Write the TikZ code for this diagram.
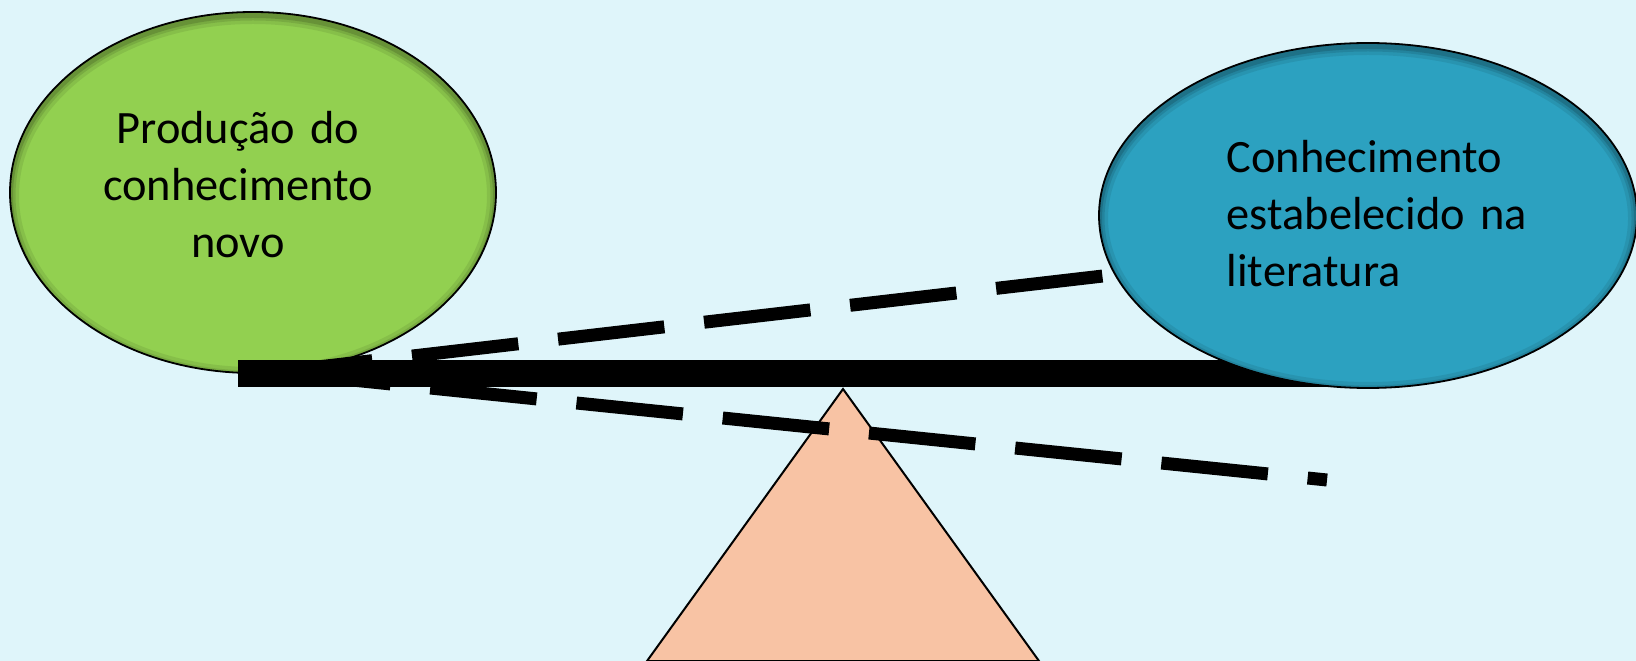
\documentclass[tikz,border=0pt]{standalone}
\usepackage{fontspec}
\setmainfont{Carlito}
\usetikzlibrary{shapes.geometric}
\definecolor{cBg}{HTML}{DFF5FA}
\definecolor{cNew}{HTML}{92D050}
\definecolor{cLit}{HTML}{2CA1C0}
\definecolor{cBase}{HTML}{F8C3A4}
\tikzset{
  blob/.style={ellipse,draw=black,line width=0.18mm,inner sep=0pt},
  innershade/.style 2 args={path picture={
    \foreach \lw/\op in {1.8mm/0.08,1.1mm/0.10,0.6mm/0.14}
      \draw[black,opacity=\op,line width=\lw]
        ([yshift=-0.3mm]path picture bounding box.center)
        ellipse [x radius=#1,y radius=#2];}},
  txt/.style={inner sep=0pt,font=\fontsize{13.2pt}{16.2pt}\selectfont},
  beam/.style={line width=2.7mm,draw=black},
  tilt/.style={line width=1.3mm,draw=black,dash pattern=on 10.7mm off 4mm},
  fulcrum/.style={draw=black,fill=cBase,line width=0.2mm,line join=miter},
}
\begin{document}
\begin{tikzpicture}[x=0.1mm,y=-0.1mm]
\useasboundingbox (0,0) rectangle (1636,661);
\fill[cBg] (0,0) rectangle (1636,661);

% left pan
\node[blob,fill=cNew,minimum width=48.6mm,minimum height=36.1mm,
      innershade={24.3mm}{18.05mm}] (novo) at (253,192.5) {};
\node[txt,anchor=base,text width=32mm,align=center] (novotxt) at (238,144)
  {Produção do\\conhecimento\\novo};

% fulcrum
\coordinate (apex) at (843,389);
\coordinate (baseL) at (647,661);
\coordinate (baseR) at (1039,661);
\draw[fulcrum] (apex) -- (baseL) -- (baseR) -- cycle;

% beam, level and tilted
\coordinate (beamL) at (238,373.5);
\coordinate (beamR) at (1360,373.5);
\draw[beam] (beamL) -- (beamR);

\coordinate (upA) at (266,373);
\coordinate (upB) at (1103,276);
\coordinate (dnA) at (284,373);
\coordinate (dnB) at (1327,480);
\draw[tilt] (upA) -- (upB);
\draw[tilt] (dnA) -- (dnB);

% right pan
\node[blob,fill=cLit,minimum width=53.8mm,minimum height=34.5mm,
      innershade={26.9mm}{17.25mm}] (lit) at (1368,215.5) {};
\node[txt,anchor=base west,text width=36mm,align=left] (littxt) at (1226,173)
  {Conhecimento\\estabelecido na\\literatura};

\end{tikzpicture}
\end{document}
